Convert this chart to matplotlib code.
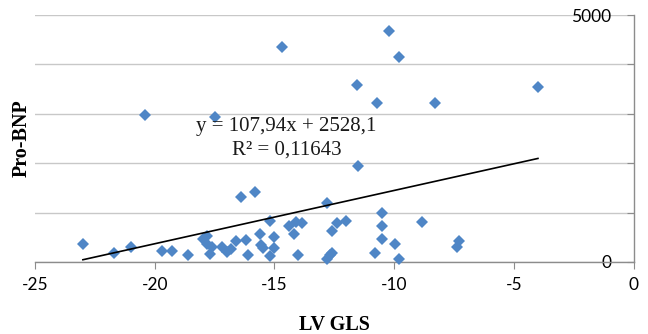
import matplotlib.pyplot as plt
import numpy as np

# LV GLS (x) vs Pro-BNP (y)
lv_gls = [-23.0, -21.7, -21.0, -20.4, -19.7, -19.3, -18.6, -18.0, -17.8, -17.8,
          -17.7, -17.6, -17.5, -17.2, -17.0, -16.8, -16.6, -16.4, -16.2, -16.1,
          -15.8, -15.6, -15.55, -15.5, -15.2, -15.2, -15.0, -15.0, -14.7, -14.4,
          -14.2, -14.1, -14.0, -13.85, -12.8, -12.8, -12.7, -12.6, -12.6, -12.4,
          -12.0, -11.55, -11.5, -10.8, -10.7, -10.5, -10.5, -10.5, -10.2, -9.95,
          -9.8, -9.8, -8.85, -8.3, -7.4, -7.3, -4.0]
pro_bnp = [356, 181, 302, 2973, 221, 221, 148, 456, 369, 523,
           168, 302, 2940, 302, 201, 268, 423, 1322, 436, 134,
           1409, 570, 349, 282, 839, 114, 497, 282, 4362, 738,
           557, 805, 134, 792, 1195, 67, 134, 624, 181, 792,
           832, 3591, 1946, 188, 3221, 987, 725, 456, 4685, 356,
           4148, 67, 812, 3221, 302, 423, 3544]

# linear trendline as printed on the chart
slope = 107.94
intercept = 2528.1
r2 = 0.11643

x_ticks = [-25, -20, -15, -10, -5, 0]
y_ticks = [0, 1000, 2000, 3000, 4000, 5000]
y_labels = ['0', '', '', '', '', '5000']

serif = 'Liberation Serif'
tick_font = 'Lato'
axis_grey = '#8C8C8C'

fig = plt.figure(figsize=(6.48, 3.34), dpi=100)
ax = fig.add_axes([0.054, 0.2156, 0.924, 0.7394])

ax.grid(axis='y', color='#C8C8C8', linewidth=1.0)
ax.set_axisbelow(True)

ax.plot(lv_gls, pro_bnp, linestyle='none', marker='D', markersize=6,
        color='#4F86C6', markeredgewidth=0, clip_on=False, zorder=3)

trend_x = np.array([min(lv_gls), max(lv_gls)])
ax.plot(trend_x, slope * trend_x + intercept, color='black', linewidth=1.2, zorder=4)

eq_text = 'y = {:.2f}x + {:.1f}\nR² = {:.5f}'.format(slope, intercept, r2).replace('.', ',')
ax.text(-14.5, 2500, eq_text, ha='center', va='center',
        fontsize=15, family=serif, linespacing=1.3, color='#1a1a1a', zorder=5)

ax.set_xlim(-25, 0)
ax.set_ylim(0, 5000)
ax.set_xticks(x_ticks)
ax.set_xticklabels([str(v) for v in x_ticks], family=tick_font, fontsize=12.5)
ax.set_yticks(y_ticks)
ax.yaxis.tick_right()
ax.set_yticklabels(y_labels, family=tick_font, fontsize=12.5)
for lab in ax.get_yticklabels():
    lab.set_horizontalalignment('right')
ax.tick_params(axis='y', direction='in', length=5, color=axis_grey, pad=-16)
ax.tick_params(axis='x', direction='out', length=5, color=axis_grey, pad=6)

for side in ['top', 'left']:
    ax.spines[side].set_visible(False)
for side in ['bottom', 'right']:
    ax.spines[side].set_color(axis_grey)
    ax.spines[side].set_linewidth(1.0)

ax.set_xlabel('LV GLS', family=serif, fontweight='bold', fontsize=14.5)
ax.xaxis.set_label_coords(0.5, -0.215)
ax.set_ylabel('Pro-BNP', family=serif, fontweight='bold', fontsize=14.5)
ax.yaxis.set_label_position('left')
ax.yaxis.set_label_coords(-0.006, 0.5)

fig.savefig('out.png', dpi=100)
